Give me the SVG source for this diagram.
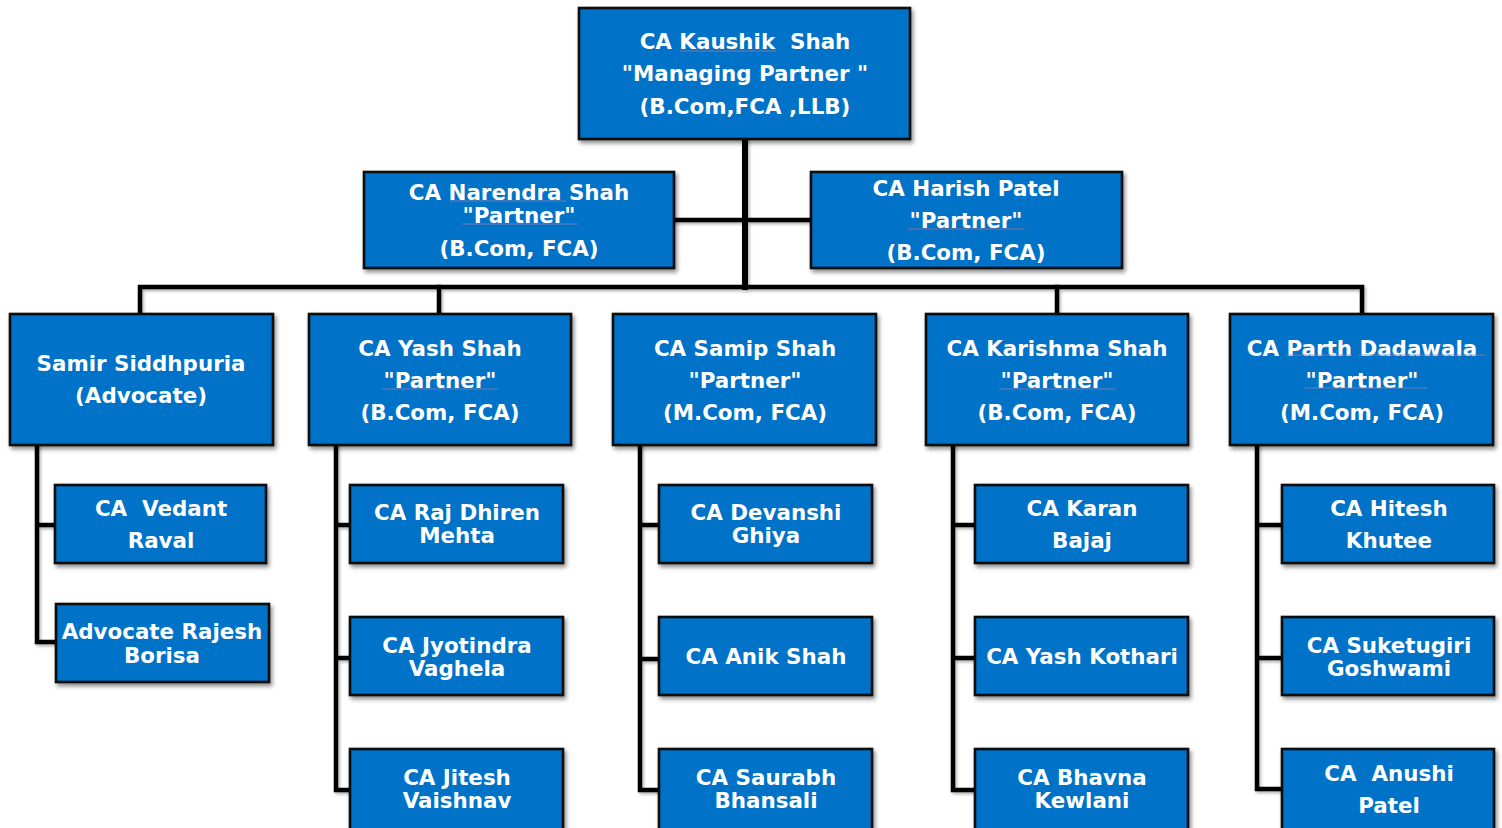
<svg xmlns="http://www.w3.org/2000/svg" width="1502" height="828" viewBox="0 0 1502 828">
  <defs>
    <filter id="shadow" x="-10%" y="-10%" width="130%" height="140%">
      <feDropShadow dx="2" dy="3" stdDeviation="2.2" flood-color="#000" flood-opacity="0.45"/>
    </filter>
    <filter id="lineShadow" x="-5%" y="-5%" width="110%" height="110%">
      <feDropShadow dx="1.5" dy="2" stdDeviation="1.5" flood-color="#000" flood-opacity="0.3"/>
    </filter>
    <style>
      .box { fill: #0573C8; stroke: #0a0a0a; stroke-width: 2.6; filter: url(#shadow); }
      .lbl { font-family: "DejaVu Sans", Verdana, sans-serif; font-weight: bold; font-size: 21.4px; fill: #ffffff; text-anchor: middle; }
      .wire { fill: none; stroke: #000; stroke-width: 4.5; stroke-linejoin: miter; stroke-linecap: square; }
      .trunk { stroke-width: 6; }
      .squig { stroke: #8c7fae; stroke-width: 1; opacity: 0.8; }
    </style>
  </defs>
  <rect width="1502" height="828" fill="#ffffff"/>

  <!-- connectors -->
  <g id="connectors" filter="url(#lineShadow)">
    <path class="wire trunk" d="M745 139 V287"/>
    <path class="wire" d="M674 220 H811"/>
    <path class="wire" d="M140 314 V287 H1362 V314"/>
    <path class="wire" d="M439 287 V314"/>
    <path class="wire" d="M1057 287 V314"/>
    <!-- Samir's team -->
    <path class="wire" d="M37 445 V642 H56 M37 525 H55"/>
    <!-- Yash's team -->
    <path class="wire" d="M336 445 V790 H350 M336 525 H350 M336 658 H350"/>
    <!-- Samip's team -->
    <path class="wire" d="M640 445 V790 H659 M640 525 H659 M640 659 H659"/>
    <!-- Karishma's team -->
    <path class="wire" d="M953 445 V790 H975 M953 525 H975 M953 658 H975"/>
    <!-- Parth's team -->
    <path class="wire" d="M1257 445 V789 H1282 M1257 525 H1282 M1257 658 H1282"/>
  </g>

  <!-- top level -->
  <g id="kaushik">
    <rect class="box" x="579" y="8" width="331" height="131"/>
    <text class="lbl" x="745" y="49" xml:space="preserve">CA Kaushik  Shah</text>
    <text class="lbl" x="745" y="81">"Managing Partner "</text>
    <text class="lbl" x="745" y="114">(B.Com,FCA ,LLB)</text>
    <line class="squig" x1="680" y1="51" x2="776" y2="51"/>
  </g>

  <g id="narendra">
    <rect class="box" x="364" y="172" width="310" height="96"/>
    <text class="lbl" x="519" y="200">CA Narendra Shah</text>
    <text class="lbl" x="519" y="223">"Partner"</text>
    <text class="lbl" x="519" y="256">(B.Com, FCA)</text>
    <line class="squig" x1="450" y1="201" x2="566" y2="201"/>
    <line class="squig" x1="462" y1="224" x2="578" y2="224"/>
  </g>

  <g id="harish">
    <rect class="box" x="811" y="172" width="311" height="96"/>
    <text class="lbl" x="966" y="196">CA Harish Patel</text>
    <text class="lbl" x="966" y="228">"Partner"</text>
    <text class="lbl" x="966" y="260">(B.Com, FCA)</text>
    <line class="squig" x1="908" y1="229" x2="1025" y2="229" style="stroke:#b06a8a"/>
  </g>

  <!-- second level -->
  <g id="samir">
    <rect class="box" x="10" y="314" width="263" height="131"/>
    <text class="lbl" x="141" y="371">Samir Siddhpuria</text>
    <text class="lbl" x="141" y="403">(Advocate)</text>
  </g>

  <g id="yash">
    <rect class="box" x="309" y="314" width="262" height="131"/>
    <text class="lbl" x="440" y="356">CA Yash Shah</text>
    <text class="lbl" x="440" y="388">"Partner"</text>
    <text class="lbl" x="440" y="420">(B.Com, FCA)</text>
    <line class="squig" x1="382" y1="389" x2="498" y2="389"/>
  </g>

  <g id="samip">
    <rect class="box" x="613" y="314" width="263" height="131"/>
    <text class="lbl" x="745" y="356">CA Samip Shah</text>
    <text class="lbl" x="745" y="388">"Partner"</text>
    <text class="lbl" x="745" y="420">(M.Com, FCA)</text>
  </g>

  <g id="karishma">
    <rect class="box" x="926" y="314" width="262" height="131"/>
    <text class="lbl" x="1057" y="356">CA Karishma Shah</text>
    <text class="lbl" x="1057" y="388">"Partner"</text>
    <text class="lbl" x="1057" y="420">(B.Com, FCA)</text>
    <line class="squig" x1="999" y1="389" x2="1115" y2="389"/>
  </g>

  <g id="parth">
    <rect class="box" x="1230" y="314" width="263" height="131"/>
    <text class="lbl" x="1362" y="356">CA Parth Dadawala</text>
    <text class="lbl" x="1362" y="388">"Partner"</text>
    <text class="lbl" x="1362" y="420">(M.Com, FCA)</text>
    <line class="squig" x1="1286" y1="355" x2="1352" y2="355"/>
    <line class="squig" x1="1358" y1="355" x2="1485" y2="355"/>
    <line class="squig" x1="1304" y1="388" x2="1427" y2="388"/>
  </g>

  <!-- team members: Samir -->
  <g id="vedant">
    <rect class="box" x="55" y="485" width="211" height="78"/>
    <text class="lbl" x="161" y="516" xml:space="preserve">CA  Vedant</text>
    <text class="lbl" x="161" y="548">Raval</text>
  </g>
  <g id="rajesh">
    <rect class="box" x="56" y="604" width="213" height="78"/>
    <text class="lbl" x="162" y="639">Advocate Rajesh</text>
    <text class="lbl" x="162" y="663">Borisa</text>
  </g>

  <!-- team members: Yash -->
  <g id="raj">
    <rect class="box" x="350" y="485" width="213" height="78"/>
    <text class="lbl" x="457" y="520">CA Raj Dhiren</text>
    <text class="lbl" x="457" y="543">Mehta</text>
  </g>
  <g id="jyotindra">
    <rect class="box" x="350" y="617" width="213" height="78"/>
    <text class="lbl" x="457" y="653">CA Jyotindra</text>
    <text class="lbl" x="457" y="676">Vaghela</text>
  </g>
  <g id="jitesh">
    <rect class="box" x="350" y="749" width="213" height="82"/>
    <text class="lbl" x="457" y="785">CA Jitesh</text>
    <text class="lbl" x="457" y="808">Vaishnav</text>
  </g>

  <!-- team members: Samip -->
  <g id="devanshi">
    <rect class="box" x="659" y="485" width="213" height="78"/>
    <text class="lbl" x="766" y="520">CA Devanshi</text>
    <text class="lbl" x="766" y="543">Ghiya</text>
  </g>
  <g id="anik">
    <rect class="box" x="659" y="617" width="213" height="78"/>
    <text class="lbl" x="766" y="664">CA Anik Shah</text>
  </g>
  <g id="saurabh">
    <rect class="box" x="659" y="749" width="213" height="82"/>
    <text class="lbl" x="766" y="785">CA Saurabh</text>
    <text class="lbl" x="766" y="808">Bhansali</text>
  </g>

  <!-- team members: Karishma -->
  <g id="karan">
    <rect class="box" x="975" y="485" width="213" height="78"/>
    <text class="lbl" x="1082" y="516">CA Karan</text>
    <text class="lbl" x="1082" y="548">Bajaj</text>
  </g>
  <g id="kothari">
    <rect class="box" x="975" y="617" width="213" height="78"/>
    <text class="lbl" x="1082" y="664">CA Yash Kothari</text>
  </g>
  <g id="bhavna">
    <rect class="box" x="975" y="749" width="213" height="82"/>
    <text class="lbl" x="1082" y="785">CA Bhavna</text>
    <text class="lbl" x="1082" y="808">Kewlani</text>
  </g>

  <!-- team members: Parth -->
  <g id="hitesh">
    <rect class="box" x="1282" y="485" width="212" height="78"/>
    <text class="lbl" x="1389" y="516">CA Hitesh</text>
    <text class="lbl" x="1389" y="548">Khutee</text>
  </g>
  <g id="suketugiri">
    <rect class="box" x="1282" y="617" width="212" height="78"/>
    <text class="lbl" x="1389" y="653">CA Suketugiri</text>
    <text class="lbl" x="1389" y="676">Goshwami</text>
  </g>
  <g id="anushi">
    <rect class="box" x="1282" y="749" width="212" height="82"/>
    <text class="lbl" x="1389" y="781" xml:space="preserve">CA  Anushi</text>
    <text class="lbl" x="1389" y="813">Patel</text>
  </g>
</svg>
